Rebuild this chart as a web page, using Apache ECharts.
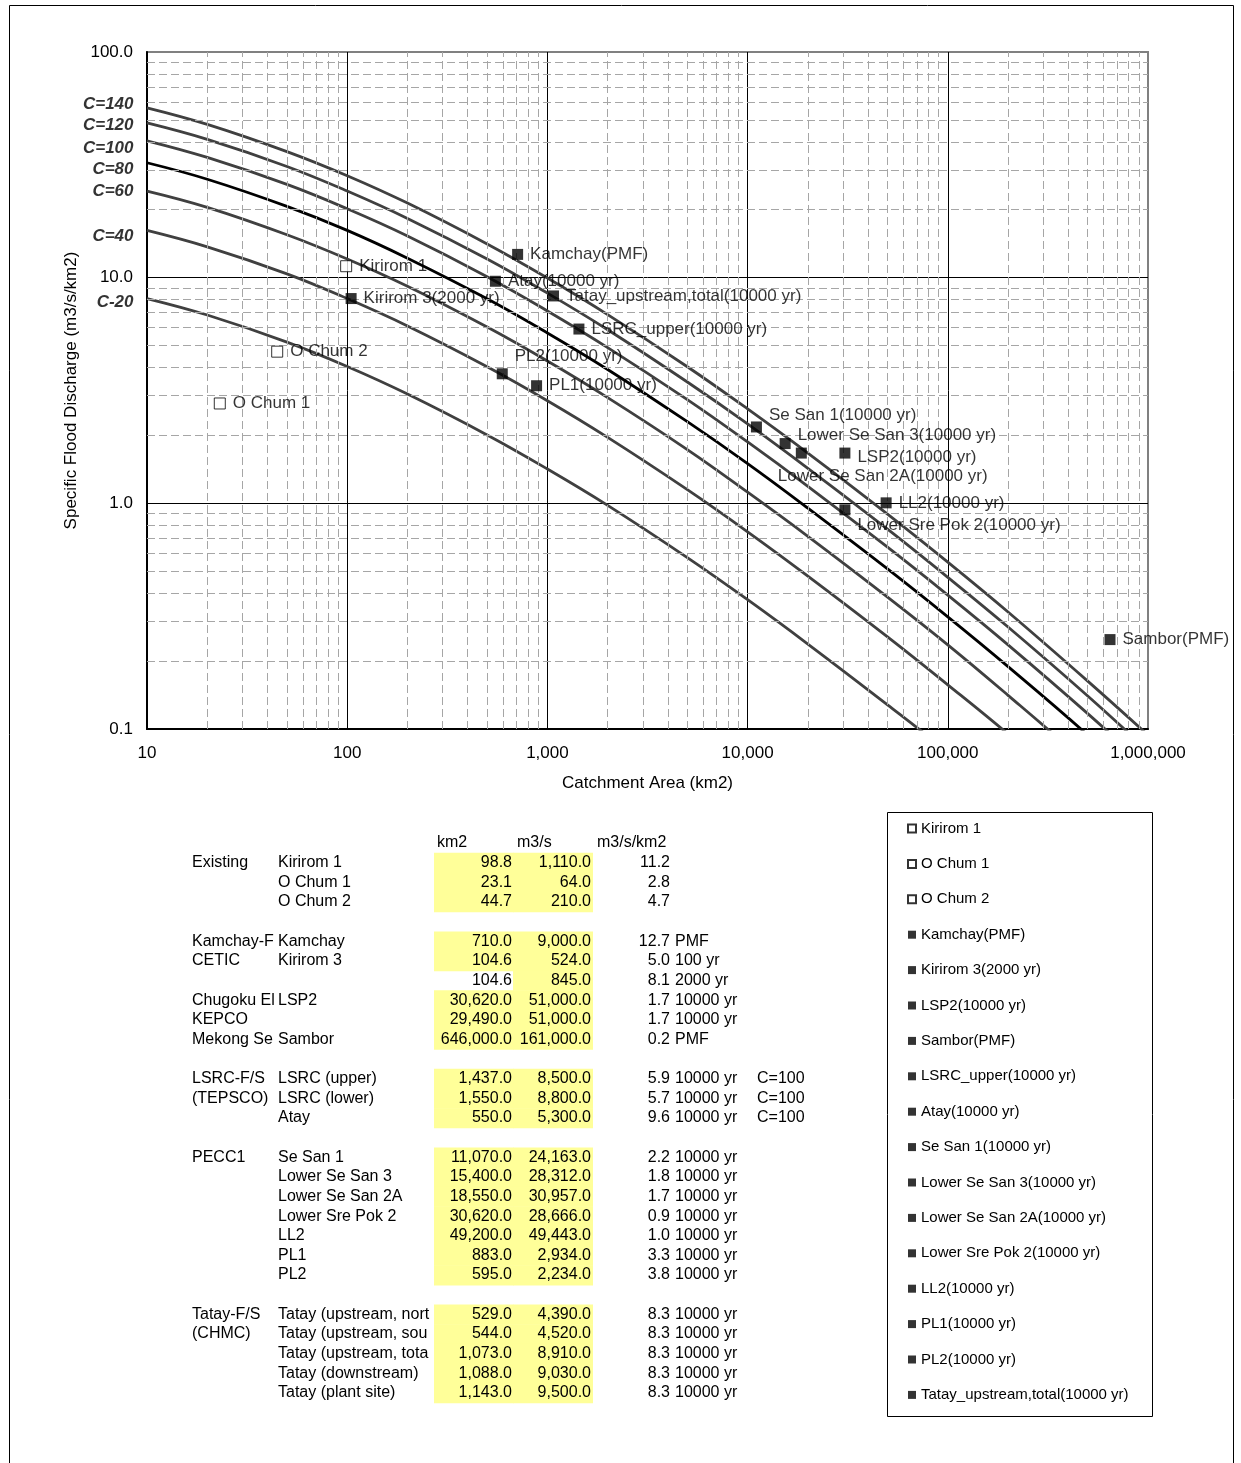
<!DOCTYPE html>
<html><head><meta charset="utf-8">
<script src="https://cdn.jsdelivr.net/npm/echarts@6/dist/echarts.min.js"></script>
<style>html,body{margin:0;padding:0;background:#fff}#c{width:1241px;height:1463px}</style>
</head><body><div id="c"></div>
<script>
// ---------------- data ----------------
const curveAreas = [10, 20, 50, 100, 200, 500, 1000, 2000, 5000, 10000, 20000, 50000, 100000, 200000, 500000, 1000000];
const curveNames = ['C=140', 'C=120', 'C=100', 'C=80', 'C=60', 'C=40', 'C-20'];
const curveC140 = [56.6, 47.8, 36.2, 28.3, 21.4, 14.1, 9.96, 6.86, 4.03, 2.62, 1.67, 0.896, 0.549, 0.330, 0.163, 0.094];
const curveC120 = [48.5, 41.0, 31.1, 24.2, 18.3, 12.1, 8.54, 5.88, 3.45, 2.25, 1.43, 0.768, 0.470, 0.283, 0.140, 0.080];
const curveC100 = [40.4, 34.1, 25.9, 20.2, 15.3, 10.1, 7.12, 4.90, 2.88, 1.87, 1.19, 0.639, 0.392, 0.236, 0.117, 0.067];
const curveC80  = [32.3, 27.3, 20.7, 16.2, 12.2, 8.06, 5.69, 3.92, 2.30, 1.50, 0.952, 0.512, 0.314, 0.189, 0.094, 0.053];
const curveC60  = [24.2, 20.5, 15.5, 12.1, 9.16, 6.04, 4.27, 2.94, 1.73, 1.12, 0.714, 0.384, 0.236, 0.141, 0.070, 0.040];
const curveC40  = [16.2, 13.7, 10.4, 8.08, 6.11, 4.03, 2.85, 1.96, 1.15, 0.748, 0.476, 0.256, 0.157, 0.095, 0.047, 0.027];
const curveC20  = [8.08, 6.83, 5.18, 4.04, 3.05, 2.01, 1.42, 0.980, 0.575, 0.374, 0.238, 0.128, 0.079, 0.047, 0.023, 0.013];
const curveValues = [curveC140, curveC120, curveC100, curveC80, curveC60, curveC40, curveC20];

const pointNames = ['Kirirom 1', 'O Chum 1', 'O Chum 2', 'Kamchay(PMF)', 'Kirirom 3(2000 yr)', 'LSP2(10000 yr)',
  'Sambor(PMF)', 'LSRC_upper(10000 yr)', 'Atay(10000 yr)', 'Se San 1(10000 yr)', 'Lower Se San 3(10000 yr)',
  'Lower Se San 2A(10000 yr)', 'Lower Sre Pok 2(10000 yr)', 'LL2(10000 yr)', 'PL1(10000 yr)', 'PL2(10000 yr)',
  'Tatay_upstream,total(10000 yr)'];
const pointArea = [98.8, 23.1, 44.7, 710, 104.6, 30620, 646000, 1437, 550, 11070, 15400, 18550, 30620, 49200, 883, 595, 1073];
const pointQ = [11.24, 2.77, 4.70, 12.68, 8.08, 1.67, 0.249, 5.92, 9.64, 2.18, 1.84, 1.67, 0.936, 1.005, 3.32, 3.75, 8.30];

const xTickValues = [10, 100, 1000, 10000, 100000, 1000000];
const yTickValues = [0.1, 1, 10, 100];
const xMinorTicks = [20, 30, 40, 50, 60, 70, 80, 90,
  200, 300, 400, 500, 600, 700, 800, 900,
  2000, 3000, 4000, 5000, 6000, 7000, 8000, 9000,
  20000, 30000, 40000, 50000, 60000, 70000, 80000, 90000,
  200000, 300000, 400000, 500000, 600000, 700000, 800000, 900000];
const yMinorTicks = [0.2, 0.3, 0.4, 0.5, 0.6, 0.7, 0.8, 0.9, 2, 3, 4, 5, 6, 7, 8, 9, 20, 30, 40, 50, 60, 70, 80, 90];

const tableHeader = ['km2', 'm3/s', 'm3/s/km2'];
const tableGroup = ['Existing', '', '', null, 'Kamchay-F', 'CETIC', '', 'Chugoku El', 'KEPCO', 'Mekong Se', null,
  'LSRC-F/S', '(TEPSCO)', '', null, 'PECC1', '', '', '', '', '', '', null, 'Tatay-F/S', '(CHMC)', '', '', ''];
const tableName = ['Kirirom 1', 'O Chum 1', 'O Chum 2', null, 'Kamchay', 'Kirirom 3', '', 'LSP2', '', 'Sambor', null,
  'LSRC (upper)', 'LSRC (lower)', 'Atay', null, 'Se San 1', 'Lower Se San 3', 'Lower Se San 2A', 'Lower Sre Pok 2',
  'LL2', 'PL1', 'PL2', null, 'Tatay (upstream, nort', 'Tatay (upstream, sou', 'Tatay (upstream, tota',
  'Tatay (downstream)', 'Tatay (plant site)'];
const tableArea = [98.8, 23.1, 44.7, null, 710, 104.6, 104.6, 30620, 29490, 646000, null, 1437, 1550, 550, null,
  11070, 15400, 18550, 30620, 49200, 883, 595, null, 529, 544, 1073, 1088, 1143];
const tableFlow = [1110, 64, 210, null, 9000, 524, 845, 51000, 51000, 161000, null, 8500, 8800, 5300, null,
  24163, 28312, 30957, 28666, 49443, 2934, 2234, null, 4390, 4520, 8910, 9030, 9500];
const tableSpecific = [11.2, 2.8, 4.7, null, 12.7, 5.0, 8.1, 1.7, 1.7, 0.2, null, 5.9, 5.7, 9.6, null,
  2.2, 1.8, 1.7, 0.9, 1.0, 3.3, 3.8, null, 8.3, 8.3, 8.3, 8.3, 8.3];
const tableNote = ['', '', '', null, 'PMF', '100 yr', '2000 yr', '10000 yr', '10000 yr', 'PMF', null,
  '10000 yr', '10000 yr', '10000 yr', null, '10000 yr', '10000 yr', '10000 yr', '10000 yr', '10000 yr', '10000 yr',
  '10000 yr', null, '10000 yr', '10000 yr', '10000 yr', '10000 yr', '10000 yr'];
const tableCoef = ['', '', '', null, '', '', '', '', '', '', null, 'C=100', 'C=100', 'C=100', null,
  '', '', '', '', '', '', '', null, '', '', '', '', ''];

// ---------------- styles ----------------
const FONT = 'Arial, "Liberation Sans", Helvetica, sans-serif';
const curveColors = ['#404040', '#404040', '#404040', '#000000', '#404040', '#404040', '#404040'];
const curveLabelDy = [-3, 2, 7, 7, 0, 6, 4];
const openMarkers = ['Kirirom 1', 'O Chum 1', 'O Chum 2'];
const labelOffsets = {
  'PL2(10000 yr)': [0, -17],
  'Se San 1(10000 yr)': [0, -12],
  'Lower Se San 3(10000 yr)': [0, -8],
  'Lower Se San 2A(10000 yr)': [-36, 23],
  'LSP2(10000 yr)': [0, 4],
  'Lower Sre Pok 2(10000 yr)': [0, 15]
};
const noFillAreaRows = [6];

const GRID = { left: 147, top: 52, width: 1001, height: 677 };

// ---------------- series ----------------
const series = [];
series.push({
  type: 'scatter', name: '_grid', data: [], z: 1, silent: true,
  markLine: {
    silent: true, symbol: ['none', 'none'], animation: false,
    label: { show: false },
    lineStyle: { color: '#a6a6a6', type: [8, 4], width: 1 },
    emphasis: { disabled: true },
    data: xMinorTicks.map(v => ({ xAxis: v })).concat(yMinorTicks.map(v => ({ yAxis: v })))
  }
});
curveNames.forEach((nm, i) => {
  series.push({
    type: 'line', name: nm, smooth: 0.4, showSymbol: false, symbol: 'none', z: 3, silent: true,
    clip: true,
    lineStyle: { color: curveColors[i], width: 2.8 },
    data: curveAreas.map((a, k) => [a, curveValues[i][k]])
  });
  series.push({
    type: 'scatter', name: nm + ' label', z: 4, silent: true, clip: false,
    symbol: 'rect', symbolSize: 1, itemStyle: { color: 'rgba(0,0,0,0)' },
    label: {
      show: true, position: 'left', distance: 13, offset: [0, curveLabelDy[i]],
      formatter: nm, color: '#000', fontSize: 17, fontWeight: 'bold', fontStyle: 'italic', fontFamily: FONT
    },
    data: [[curveAreas[0], curveValues[i][0]]]
  });
});
pointNames.forEach((nm, i) => {
  const open = openMarkers.indexOf(nm) >= 0;
  series.push({
    type: 'scatter', name: nm, z: 5,
    symbol: 'rect', symbolSize: 11,
    itemStyle: open ? { color: '#ffffff', borderColor: '#000000', borderWidth: 1 } : { color: '#000000' },
    label: {
      show: true, position: 'right', distance: 7, formatter: nm, color: '#000',
      fontSize: 17, fontFamily: FONT, offset: labelOffsets[nm] || [0, 0]
    },
    data: [[pointArea[i], pointQ[i]]]
  });
});

// ---------------- table + frames (graphic) ----------------
const graphics = [];
graphics.push({ type: 'rect', shape: { x: 9.5, y: 5.5, width: 1224, height: 1480 }, style: { fill: null, stroke: '#000', lineWidth: 1 }, z: -10 });
graphics.push({ type: 'rect', shape: { x: 887.5, y: 812.5, width: 265, height: 604 }, style: { fill: '#fff', stroke: '#000', lineWidth: 1 }, z: -5 });

const ROW0 = 843, ROWH = 19.64;
const fmt1 = v => v.toLocaleString('en-US', { minimumFractionDigits: 1, maximumFractionDigits: 1 });
function txt(s, x, y, align) {
  graphics.push({ type: 'text', z: 2, style: { text: s, x: x, y: y, fill: '#000', font: '16px ' + FONT, align: align, verticalAlign: 'middle', textAlign: align, textVerticalAlign: 'middle' } });
}
txt(tableHeader[0], 437, ROW0, 'left');
txt(tableHeader[1], 517, ROW0, 'left');
txt(tableHeader[2], 597, ROW0, 'left');
tableArea.forEach((a, i) => {
  const y = ROW0 + ROWH * (i + 1);
  if (a !== null) {
    if (noFillAreaRows.indexOf(i) < 0) {
      graphics.push({ type: 'rect', z: 0, shape: { x: 434, y: y - ROWH / 2, width: 79.5, height: ROWH + 0.5 }, style: { fill: '#FFFF99' } });
    }
    graphics.push({ type: 'rect', z: 0, shape: { x: 513, y: y - ROWH / 2, width: 80, height: ROWH + 0.5 }, style: { fill: '#FFFF99' } });
  }
  if (tableGroup[i]) txt(tableGroup[i], 192, y, 'left');
  if (tableName[i]) txt(tableName[i], 278, y, 'left');
  if (a !== null) txt(fmt1(a), 512, y, 'right');
  if (tableFlow[i] !== null) txt(fmt1(tableFlow[i]), 591, y, 'right');
  if (tableSpecific[i] !== null) txt(tableSpecific[i].toFixed(1), 670, y, 'right');
  if (tableNote[i]) txt(tableNote[i], 675, y, 'left');
  if (tableCoef[i]) txt(tableCoef[i], 757, y, 'left');
});

// ---------------- option ----------------
const chart = echarts.init(document.getElementById('c'), null, { renderer: 'canvas' });
chart.setOption({
  backgroundColor: '#ffffff',
  animation: false,
  textStyle: { fontFamily: FONT },
  grid: Object.assign({ show: true, borderColor: '#808080', borderWidth: 2, backgroundColor: '#fff' }, GRID),
  legend: {
    data: pointNames, orient: 'vertical', left: 907, top: 821, padding: 0,
    itemWidth: 8, itemHeight: 8, itemGap: 20.4, selectedMode: false, icon: 'rect',
    textStyle: { fontSize: 15, fontFamily: FONT, color: '#000' }
  },
  xAxis: {
    type: 'log', logBase: 10, min: xTickValues[0], max: xTickValues[xTickValues.length - 1],
    name: 'Catchment Area (km2)', nameLocation: 'middle', nameGap: 46,
    nameTextStyle: { fontSize: 17, color: '#000', fontFamily: FONT },
    axisLine: { show: true, onZero: false, lineStyle: { color: '#000', width: 2 } },
    axisTick: { show: false },
    axisLabel: { fontSize: 17, color: '#000', margin: 16, fontFamily: FONT,
      formatter: v => Number(v).toLocaleString('en-US', { maximumFractionDigits: 0 }) },
    splitLine: { show: true, showMinLine: false, showMaxLine: false, lineStyle: { color: '#000', width: 1 } }
  },
  yAxis: {
    type: 'log', logBase: 10, min: yTickValues[0], max: yTickValues[yTickValues.length - 1],
    name: 'Specific Flood Discharge (m3/s/km2)', nameLocation: 'middle', nameGap: 67,
    nameTextStyle: { fontSize: 17, color: '#000', fontFamily: FONT },
    axisLine: { show: true, onZero: false, lineStyle: { color: '#000', width: 2 } },
    axisTick: { show: false },
    axisLabel: { fontSize: 17, color: '#000', margin: 14, fontFamily: FONT,
      formatter: v => Number(v).toFixed(1) },
    splitLine: { show: true, showMinLine: false, showMaxLine: false, lineStyle: { color: '#000', width: 1 } }
  },
  series: series,
  graphic: graphics
});
</script></body></html>
